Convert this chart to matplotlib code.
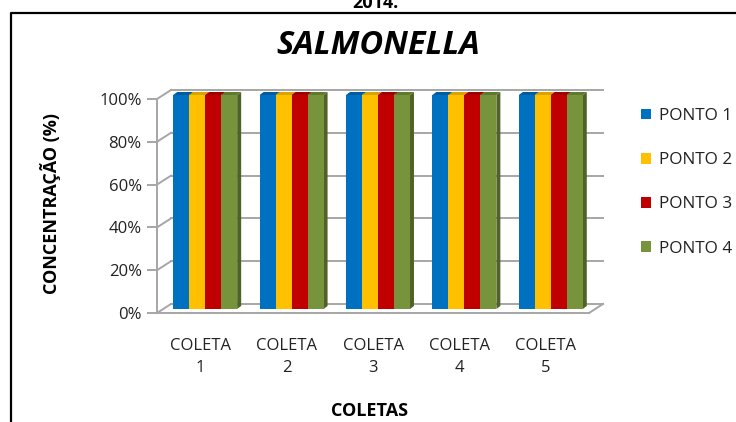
import matplotlib.pyplot as plt
from matplotlib.patches import Polygon, Patch
from matplotlib.lines import Line2D

coletas = ["COLETA\n1", "COLETA\n2", "COLETA\n3", "COLETA\n4", "COLETA\n5"]
pontos = ["PONTO 1", "PONTO 2", "PONTO 3", "PONTO 4"]
ponto1 = [1.0, 1.0, 1.0, 1.0, 1.0]
ponto2 = [1.0, 1.0, 1.0, 1.0, 1.0]
ponto3 = [1.0, 1.0, 1.0, 1.0, 1.0]
ponto4 = [1.0, 1.0, 1.0, 1.0, 1.0]
yticks = [0, 0.2, 0.4, 0.6, 0.8, 1.0]

colors = ["#0070C0", "#FFC000", "#C00000", "#77933C"]
tops = ["#005C9E", "#D9A300", "#9E0000", "#5F7A2E"]
sides = ["#004A80", "#B38600", "#800000", "#4F6228"]
grid = "#A6A6A6"

plt.rcParams["font.family"] = ["Open Sans", "DejaVu Sans"]

W, H = 736, 422
fig = plt.figure(figsize=(W / 100, H / 100), dpi=100)
ax_l, ax_r, ax_t, ax_b = 157, 589, 99, 313
ax = fig.add_axes([ax_l / W, 1 - ax_b / H, (ax_r - ax_l) / W, (ax_b - ax_t) / H])
ax.set_xlim(-0.5, 4.5)
ax.set_ylim(0, 1)

# pixel -> data units
px = 5 / (ax_r - ax_l)
py = 1 / (ax_b - ax_t)

# back wall and floor (3D look)
bdx, bdy = 14 * px, 9 * py
for y in yticks:
    ax.plot([-0.5 + bdx, 4.5 + bdx], [y + bdy, y + bdy], color=grid, lw=1.4, clip_on=False, zorder=1)
    ax.plot([-0.5, -0.5 + bdx], [y, y + bdy], color=grid, lw=1.4, clip_on=False, zorder=1)
ax.plot([4.5, 4.5 + bdx], [0, bdy], color=grid, lw=1.4, clip_on=False, zorder=1)

# bars
series = [ponto1, ponto2, ponto3, ponto4]
w = 0.185
ox, oy = 5 * px, 4 * py
dx, dy = 4 * px, 3 * py
for j, vals in enumerate(series):
    for i, v in enumerate(vals):
        x0 = i - 2 * w + j * w + ox
        x1 = x0 + w
        y0, y1 = oy, v + oy
        ax.add_patch(Polygon([(x1, y0), (x1 + dx, y0 + dy), (x1 + dx, y1 + dy), (x1, y1)],
                             closed=True, facecolor=sides[j], edgecolor="none", clip_on=False, zorder=2))
        ax.add_patch(Polygon([(x0, y1), (x0 + dx, y1 + dy), (x1 + dx, y1 + dy), (x1, y1)],
                             closed=True, facecolor=tops[j], edgecolor="none", clip_on=False, zorder=2))
for j, vals in enumerate(series):
    xs = [i - 2 * w + j * w + ox + w / 2 for i in range(len(vals))]
    ax.bar(xs, vals, width=w, bottom=oy, color=colors[j], zorder=3, clip_on=False, label=pontos[j])

for s in ["top", "right"]:
    ax.spines[s].set_visible(False)
for s in ["left", "bottom"]:
    ax.spines[s].set_color(grid)
    ax.spines[s].set_linewidth(1.4)

ax.set_yticks(yticks)
ax.set_yticklabels([f"{int(round(t * 100))}%" for t in yticks])
ax.tick_params(axis="y", direction="out", length=7, width=1.4, color=grid, pad=4,
               labelsize=12, labelcolor="#222222")
ax.set_xticks(range(len(coletas)))
ax.set_xticklabels(coletas, linespacing=1.5)
ax.tick_params(axis="x", length=0, pad=18, labelsize=12, labelcolor="#222222")

handles = [Patch(facecolor=c, edgecolor="none") for c in colors]
fig.legend(handles, pontos, loc="upper left", bbox_to_anchor=(641 / W, 1 - 108 / H),
           frameon=False, fontsize=12.3, handlelength=0.6, handleheight=0.6,
           handletextpad=0.45, labelspacing=1.65, borderpad=0, borderaxespad=0,
           labelcolor="#222222")

fig.text(378 / W, 1 - 46 / H, "SALMONELLA", ha="center", va="center",
         fontsize=23.5, fontweight="bold", fontstyle="italic")
fig.text(51 / W, 1 - 204 / H, "CONCENTRAÇÃO (%)", ha="center", va="center",
         rotation=90, fontsize=13, fontweight="bold")
fig.text(370 / W, 1 - 411 / H, "COLETAS", ha="center", va="center",
         fontsize=13, fontweight="bold")
fig.text(375 / W, 1 - 8 / H, "2014.", ha="center", va="baseline",
         fontsize=13, fontweight="bold")

# outer border (cut by the image edges)
fig.add_artist(Line2D([10.5 / W, 10.5 / W, 1.0], [0.0, 1 - 12.7 / H, 1 - 12.7 / H],
                      transform=fig.transFigure, color="black", lw=1.6))

fig.savefig("out.png", dpi=100)
